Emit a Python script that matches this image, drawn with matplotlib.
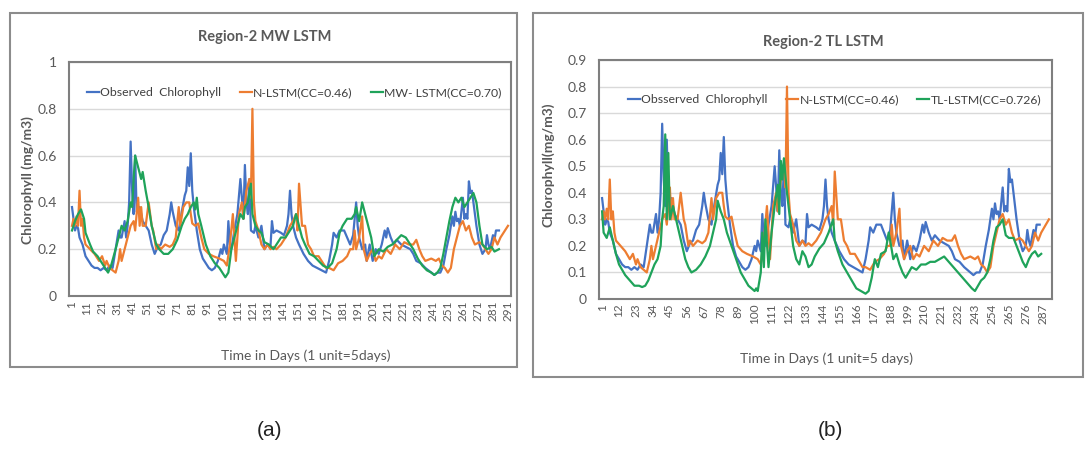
import matplotlib
matplotlib.use('Agg')
import matplotlib.pyplot as plt
from matplotlib.patches import Rectangle

plt.rcParams['font.family'] = ['Lato', 'DejaVu Sans']

# (unit, value) pairs, 1 unit = 5 days
observed = [
    (1, 0.38), (2, 0.33), (3, 0.28), (4, 0.30), (5, 0.29), (6, 0.25), (8, 0.22), (10, 0.17),
    (12, 0.15), (14, 0.13), (16, 0.12), (18, 0.12), (20, 0.11), (22, 0.12), (24, 0.11),
    (26, 0.13), (28, 0.12), (30, 0.20), (32, 0.28), (33, 0.25), (34, 0.25), (36, 0.32),
    (37, 0.25), (38, 0.30), (39, 0.40), (40, 0.66), (41, 0.45), (42, 0.35), (43, 0.60),
    (44, 0.36), (46, 0.38), (48, 0.32), (50, 0.30), (52, 0.28), (54, 0.22), (56, 0.18),
    (58, 0.21), (60, 0.22), (62, 0.26), (64, 0.28), (66, 0.35), (67, 0.40), (68, 0.36),
    (70, 0.30), (72, 0.28), (74, 0.36), (76, 0.43), (77, 0.45), (78, 0.55), (79, 0.47),
    (80, 0.61), (81, 0.45), (82, 0.38), (84, 0.28), (86, 0.20), (88, 0.16), (90, 0.14),
    (92, 0.12), (94, 0.11), (96, 0.12), (98, 0.15), (100, 0.20), (101, 0.18), (102, 0.22),
    (104, 0.18), (105, 0.32), (106, 0.22), (107, 0.20), (109, 0.28), (111, 0.35), (113, 0.50),
    (114, 0.42), (115, 0.33), (116, 0.56), (117, 0.40), (118, 0.35), (119, 0.50), (120, 0.28),
    (122, 0.27), (123, 0.30), (125, 0.25), (127, 0.30), (129, 0.20), (131, 0.22), (133, 0.21),
    (134, 0.32), (135, 0.27), (137, 0.28), (140, 0.27), (142, 0.26), (144, 0.30), (145, 0.35),
    (146, 0.45), (147, 0.35), (148, 0.30), (150, 0.25), (152, 0.22), (155, 0.18), (158, 0.15),
    (161, 0.13), (164, 0.12), (167, 0.11), (170, 0.10), (172, 0.15), (174, 0.22), (175, 0.27),
    (177, 0.25), (179, 0.28), (182, 0.28), (184, 0.25), (186, 0.22), (188, 0.26), (190, 0.40),
    (191, 0.30), (192, 0.25), (194, 0.20), (196, 0.22), (197, 0.15), (199, 0.22), (201, 0.15),
    (203, 0.20), (205, 0.18), (207, 0.22), (209, 0.28), (210, 0.25), (211, 0.29), (213, 0.25),
    (215, 0.22), (217, 0.24), (220, 0.22), (223, 0.21), (226, 0.20), (228, 0.18), (230, 0.15),
    (233, 0.14), (236, 0.12), (238, 0.11), (240, 0.10), (242, 0.09), (244, 0.10), (246, 0.10),
    (248, 0.13), (250, 0.20), (252, 0.26), (253, 0.30), (254, 0.34), (255, 0.30), (256, 0.36),
    (257, 0.32), (258, 0.33), (259, 0.30), (261, 0.42), (262, 0.33), (263, 0.35), (264, 0.33),
    (265, 0.49), (266, 0.44), (267, 0.45), (268, 0.40), (270, 0.30), (272, 0.22), (274, 0.18),
    (276, 0.20), (277, 0.26), (278, 0.22), (279, 0.20), (281, 0.26), (282, 0.24), (283, 0.28),
    (285, 0.28),
]

n_lstm = [
    (1, 0.30), (2, 0.33), (3, 0.30), (4, 0.34), (5, 0.30), (6, 0.45), (7, 0.30), (8, 0.33),
    (9, 0.25), (10, 0.22), (13, 0.20), (16, 0.18), (19, 0.15), (21, 0.17), (23, 0.13),
    (24, 0.15), (26, 0.12), (28, 0.11), (30, 0.10), (32, 0.15), (33, 0.20), (34, 0.15),
    (36, 0.20), (38, 0.25), (40, 0.30), (42, 0.32), (43, 0.28), (45, 0.42), (46, 0.30),
    (47, 0.38), (48, 0.30), (50, 0.30), (52, 0.40), (54, 0.30), (55, 0.28), (57, 0.20),
    (58, 0.22), (60, 0.20), (63, 0.22), (66, 0.21), (68, 0.22), (70, 0.25), (72, 0.38),
    (73, 0.30), (75, 0.38), (77, 0.40), (79, 0.40), (80, 0.35), (81, 0.31), (83, 0.30),
    (85, 0.31), (87, 0.25), (89, 0.20), (92, 0.18), (95, 0.17), (99, 0.16), (102, 0.15),
    (104, 0.13), (106, 0.22), (108, 0.35), (109, 0.25), (110, 0.15), (112, 0.35), (114, 0.40),
    (115, 0.33), (117, 0.45), (119, 0.50), (120, 0.42), (121, 0.80), (122, 0.40), (123, 0.32),
    (125, 0.28), (127, 0.22), (129, 0.20), (131, 0.22), (133, 0.20), (135, 0.21), (137, 0.20),
    (140, 0.22), (143, 0.25), (146, 0.30), (148, 0.32), (150, 0.35), (151, 0.28), (152, 0.48),
    (154, 0.30), (156, 0.30), (158, 0.22), (160, 0.20), (162, 0.17), (165, 0.17), (168, 0.14),
    (170, 0.12), (172, 0.12), (175, 0.11), (178, 0.14), (181, 0.15), (184, 0.17), (186, 0.20),
    (188, 0.20), (189, 0.28), (190, 0.20), (192, 0.25), (194, 0.34), (195, 0.20), (197, 0.15),
    (199, 0.18), (201, 0.20), (203, 0.15), (205, 0.17), (207, 0.16), (210, 0.20), (213, 0.18),
    (216, 0.22), (219, 0.20), (222, 0.23), (225, 0.22), (228, 0.22), (230, 0.24), (232, 0.20),
    (234, 0.17), (236, 0.15), (240, 0.16), (243, 0.15), (245, 0.16), (247, 0.13), (249, 0.12),
    (251, 0.10), (253, 0.12), (255, 0.20), (257, 0.25), (259, 0.30), (261, 0.32), (263, 0.28),
    (265, 0.30), (267, 0.25), (269, 0.22), (272, 0.23), (274, 0.22), (276, 0.20), (278, 0.18),
    (280, 0.20), (282, 0.25), (284, 0.22), (286, 0.25), (288, 0.27), (291, 0.30),
]

mw_lstm = [
    (1, 0.28), (3, 0.32), (5, 0.35), (7, 0.37), (9, 0.33), (10, 0.27), (13, 0.22), (15, 0.19),
    (18, 0.17), (21, 0.14), (23, 0.12), (25, 0.10), (27, 0.13), (30, 0.20), (32, 0.25),
    (34, 0.30), (36, 0.28), (38, 0.32), (40, 0.40), (41, 0.38), (42, 0.50), (43, 0.60),
    (45, 0.55), (47, 0.50), (48, 0.53), (50, 0.45), (52, 0.38), (54, 0.30), (57, 0.22),
    (59, 0.20), (62, 0.18), (65, 0.18), (68, 0.20), (71, 0.24), (74, 0.30), (76, 0.33),
    (78, 0.35), (80, 0.38), (82, 0.40), (83, 0.37), (84, 0.42), (85, 0.35), (87, 0.30),
    (90, 0.22), (93, 0.17), (96, 0.14), (99, 0.12), (101, 0.10), (103, 0.08), (105, 0.10),
    (106, 0.15), (107, 0.20), (109, 0.25), (111, 0.30), (113, 0.35), (115, 0.33), (116, 0.38),
    (118, 0.40), (120, 0.48), (121, 0.35), (123, 0.30), (125, 0.28), (127, 0.27), (129, 0.23),
    (132, 0.22), (135, 0.20), (137, 0.22), (140, 0.25), (143, 0.25), (146, 0.28), (148, 0.30),
    (150, 0.35), (152, 0.30), (154, 0.25), (156, 0.22), (159, 0.18), (162, 0.17), (165, 0.15),
    (168, 0.13), (171, 0.12), (174, 0.14), (177, 0.20), (179, 0.27), (181, 0.30), (184, 0.33),
    (187, 0.33), (189, 0.35), (190, 0.38), (192, 0.32), (194, 0.40), (196, 0.35), (198, 0.30),
    (200, 0.25), (202, 0.17), (205, 0.20), (208, 0.19), (211, 0.21), (214, 0.22), (217, 0.24),
    (220, 0.26), (223, 0.25), (226, 0.22), (228, 0.20), (231, 0.16), (234, 0.13), (237, 0.11),
    (240, 0.10), (242, 0.09), (244, 0.10), (246, 0.12), (248, 0.18), (250, 0.25), (252, 0.32),
    (254, 0.38), (256, 0.42), (258, 0.40), (260, 0.42), (262, 0.38), (264, 0.40), (266, 0.42),
    (268, 0.44), (270, 0.40), (272, 0.30), (274, 0.22), (277, 0.20), (280, 0.21), (282, 0.19),
    (285, 0.20),
]

tl_lstm = [
    (1, 0.33), (2, 0.25), (4, 0.23), (6, 0.27), (8, 0.22), (10, 0.17), (12, 0.13), (14, 0.11),
    (16, 0.09), (19, 0.07), (22, 0.05), (25, 0.05), (27, 0.045), (29, 0.05), (31, 0.07),
    (33, 0.10), (35, 0.13), (37, 0.15), (39, 0.20), (40, 0.30), (41, 0.35), (42, 0.62),
    (43, 0.30), (44, 0.55), (45, 0.30), (47, 0.35), (49, 0.30), (51, 0.25), (53, 0.20),
    (55, 0.15), (57, 0.12), (59, 0.10), (62, 0.11), (65, 0.13), (68, 0.16), (71, 0.20),
    (73, 0.25), (75, 0.30), (76, 0.37), (78, 0.33), (80, 0.30), (82, 0.25), (85, 0.20),
    (88, 0.15), (91, 0.10), (94, 0.07), (96, 0.05), (98, 0.04), (100, 0.03), (101, 0.04),
    (102, 0.03), (104, 0.10), (105, 0.25), (106, 0.12), (107, 0.30), (109, 0.12), (111, 0.25),
    (113, 0.35), (115, 0.43), (116, 0.32), (117, 0.52), (118, 0.45), (119, 0.53), (121, 0.40),
    (123, 0.30), (125, 0.20), (127, 0.15), (129, 0.13), (131, 0.18), (133, 0.16), (135, 0.12),
    (137, 0.13), (139, 0.16), (142, 0.19), (145, 0.21), (148, 0.25), (151, 0.30), (152, 0.22),
    (154, 0.18), (157, 0.13), (160, 0.10), (163, 0.07), (166, 0.04), (169, 0.03), (172, 0.02),
    (174, 0.03), (176, 0.08), (178, 0.15), (180, 0.12), (182, 0.17), (185, 0.18), (187, 0.25),
    (188, 0.22), (190, 0.15), (192, 0.17), (194, 0.13), (196, 0.10), (198, 0.08), (200, 0.10),
    (202, 0.12), (205, 0.11), (208, 0.13), (211, 0.13), (214, 0.14), (217, 0.14), (220, 0.15),
    (223, 0.16), (226, 0.14), (229, 0.12), (232, 0.10), (235, 0.08), (238, 0.06), (241, 0.04),
    (243, 0.03), (245, 0.05), (247, 0.07), (249, 0.08), (251, 0.10), (253, 0.15), (255, 0.22),
    (257, 0.27), (259, 0.28), (261, 0.30), (263, 0.24), (265, 0.23), (268, 0.23), (270, 0.20),
    (272, 0.17), (274, 0.14), (276, 0.12), (278, 0.15), (280, 0.17), (282, 0.18), (284, 0.16),
    (286, 0.17),
]

ticks_a = list(range(1, 292, 10))
ticks_b = list(range(1, 292, 11))

BLUE = '#4472c4'
ORANGE = '#ed7d31'
GREEN = '#1fa35a'
TXT = '#595959'

fig = plt.figure(figsize=(10.85, 4.53), dpi=100)
W, H = 1085, 453


def box(l, t, r, b):
    return [l / W, 1 - b / H, (r - l) / W, (b - t) / H]


def draw(ax, green, ticks, ymax, ystep):
    for data, c in [(observed, BLUE), (n_lstm, ORANGE), (green, GREEN)]:
        xs = [p[0] for p in data]
        ys = [p[1] for p in data]
        ax.plot(xs, ys, color=c, lw=1.6)
    ax.set_xlim(-1, 293)
    ax.set_ylim(0, ymax)
    yt = [round(i * ystep, 2) for i in range(int(round(ymax / ystep)) + 1)]
    ax.set_yticks(yt)
    ax.set_yticklabels([f'{v:g}' for v in yt])
    ax.set_xticks(ticks)
    ax.set_xticklabels([str(t) for t in ticks], rotation=90)
    ax.tick_params(axis='both', length=0, colors=TXT, labelsize=8.5)
    ax.tick_params(axis='y', labelsize=10, pad=9)
    ax.grid(axis='y', color='#d9d9d9', lw=1)
    ax.set_axisbelow(True)
    for s in ax.spines.values():
        s.set_color('#7f7f7f')
        s.set_linewidth(1.5)
    return ax


leg_kw = dict(ncol=3, loc='center', frameon=False, fontsize=8.8, handlelength=1.0,
              handletextpad=0.1, columnspacing=1.5, labelcolor='#404040')

# panel (a)
fig.add_artist(Rectangle((10 / W, 1 - 367 / H), 507 / W, 354 / H, transform=fig.transFigure,
                         fill=False, ec='#8c8c8c', lw=1.5))
ax1 = fig.add_axes(box(69, 62, 511, 296))
draw(ax1, mw_lstm, ticks_a, 1.0, 0.2)
ax1.legend(['Observed  Chlorophyll', 'N-LSTM(CC=0.46)', 'MW- LSTM(CC=0.70)'],
           bbox_to_anchor=(0.51, 0.87), **leg_kw)
fig.text(265 / W, 1 - 37 / H, 'Region-2 MW LSTM', ha='center', va='center',
         fontsize=10.5, weight='bold', color=TXT)
fig.text(28 / W, 1 - 180 / H, 'Chlorophyll (mg/m3)', ha='center', va='center', rotation=90,
         fontsize=10, weight='bold', color=TXT)
fig.text(306 / W, 1 - 356 / H, 'Time in Days (1 unit=5days)', ha='center', va='center',
         fontsize=10, color=TXT)

# panel (b)
fig.add_artist(Rectangle((533 / W, 1 - 377 / H), 550 / W, 364 / H, transform=fig.transFigure,
                         fill=False, ec='#8c8c8c', lw=1.5))
ax2 = fig.add_axes(box(599, 60, 1052, 299))
draw(ax2, tl_lstm, ticks_b, 0.9, 0.1)
ax2.legend(['Obsserved  Chlorophyll', 'N-LSTM(CC=0.46)', 'TL-LSTM(CC=0.726)'],
           bbox_to_anchor=(0.52, 0.833), **leg_kw)
fig.text(823 / W, 1 - 42 / H, 'Region-2 TL LSTM', ha='center', va='center',
         fontsize=10.5, weight='bold', color=TXT)
fig.text(548 / W, 1 - 165 / H, 'Chlorophyll(mg/m3)', ha='center', va='center', rotation=90,
         fontsize=10, weight='bold', color=TXT)
fig.text(827 / W, 1 - 359 / H, 'Time in Days (1 unit=5 days)', ha='center', va='center',
         fontsize=10, color=TXT)

fig.text(270 / W, 1 - 430 / H, '(a)', ha='center', va='center', fontsize=15,
         family=['Liberation Sans', 'DejaVu Sans'], color='#222222')
fig.text(830 / W, 1 - 430 / H, '(b)', ha='center', va='center', fontsize=15,
         family=['Liberation Sans', 'DejaVu Sans'], color='#222222')

fig.savefig('out.png', dpi=100)
